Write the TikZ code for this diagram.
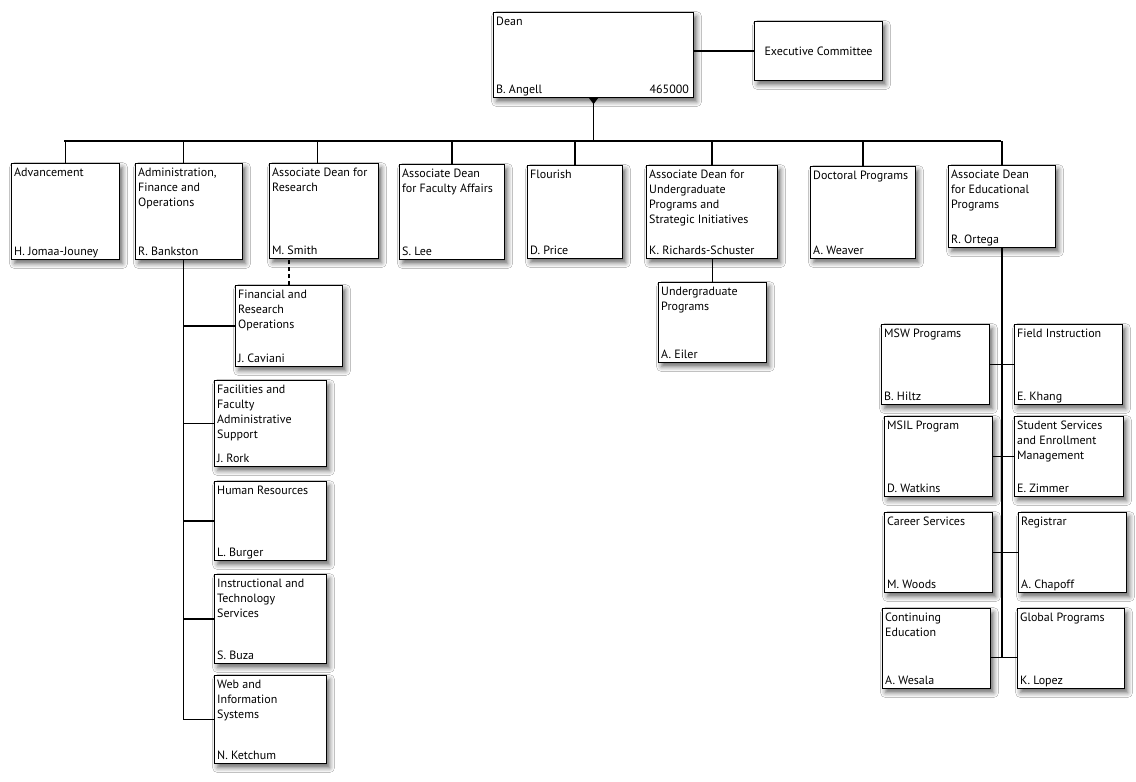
\documentclass[tikz,border=0pt]{standalone}
\usepackage{fontspec}
\setmainfont{PT Sans}
\usetikzlibrary{shadows,shadows.blur,calc}
\tikzset{
  obox/.style={draw=black, line width=1.1pt, fill=white, inner sep=0pt,
    blur shadow={shadow xshift=3pt, shadow yshift=-4pt, shadow blur radius=5pt, shadow opacity=60}},
  otitle/.style={anchor=north west, align=left, inner sep=0pt, font=\fontsize{12}{15}\selectfont},
  oname/.style={anchor=base west, inner sep=0pt, font=\fontsize{12}{15}\selectfont},
  conn/.style={draw=black, line width=1.6pt},
}
\newcommand{\obox}[7]{%
  \node[obox, minimum width=#4pt, minimum height=#5pt, anchor=north west] (#1) at (#2,#3) {};
  \node[otitle] (#1-t) at ([shift={(3pt,-5pt)}]#1.north west) {#6};
  \node[oname] (#1-n) at ([shift={(3pt,5pt)}]#1.south west) {#7};
}
\begin{document}
\begin{tikzpicture}[x=1pt, y=-1pt]
\useasboundingbox[fill=white] (0,0) rectangle (1136,782);
\coordinate (busL) at (64,141);
\coordinate (busR) at (1001,141);
% boxes
\obox{dean}{493}{12}{200}{85}{Dean}{B. Angell}
\node[anchor=base east, inner sep=0pt, font=\fontsize{12}{15}\selectfont] (dean-c) at ([shift={(-5pt,5pt)}]dean.south east) {465000};
\node[obox, minimum width=128pt, minimum height=59pt, anchor=north west, font=\fontsize{12}{15}\selectfont] (exec) at (754,21) {Executive Committee};

\obox{adv}{11}{163}{108}{96}{Advancement}{H. Jomaa-Jouney}
\obox{admin}{135}{163}{107}{96}{Administration,\\Finance and\\Operations}{R. Bankston}
\obox{research}{269}{163}{109}{95}{Associate Dean for\\Research}{M. Smith}
\obox{faculty}{399}{164}{105}{95}{Associate Dean\\for Faculty Affairs}{S. Lee}
\obox{flourish}{527}{165}{95}{93}{Flourish}{D. Price}
\obox{adug}{646}{165}{131}{93}{Associate Dean for\\Undergraduate\\Programs and\\Strategic Initiatives}{K. Richards-Schuster}
\obox{doctoral}{810}{166}{105}{92}{Doctoral Programs}{A. Weaver}
\obox{ortega}{948}{165}{107}{82}{Associate Dean\\for Educational\\Programs}{R. Ortega}

\obox{fin}{235}{285}{107}{81}{Financial and\\Research\\Operations}{J. Caviani}
\obox{fac}{214}{380}{112}{86}{Facilities and\\Faculty\\Administrative\\Support}{J. Rork}
\obox{hr}{214}{481}{112}{79}{Human Resources}{L. Burger}
\obox{instr}{214}{574}{112}{89}{Instructional and\\Technology\\Services}{S. Buza}
\obox{web}{214}{675}{112}{88}{Web and\\Information\\Systems}{N. Ketchum}

\obox{ugp}{658}{282}{108}{80}{Undergraduate\\Programs}{A. Eiler}

\obox{msw}{881}{324}{108}{80}{MSW Programs}{B. Hiltz}
\obox{field}{1014}{324}{108}{80}{Field Instruction}{E. Khang}
\obox{msil}{884}{416}{108}{80}{MSIL Program}{D. Watkins}
\obox{ss}{1014}{416}{109}{80}{Student Services\\and Enrollment\\Management}{E. Zimmer}
\obox{career}{884}{512}{108}{80}{Career Services}{M. Woods}
\obox{reg}{1018}{512}{108}{80}{Registrar}{A. Chapoff}
\obox{cont}{882}{608}{108}{80}{Continuing\\Education}{A. Wesala}
\obox{global}{1017}{608}{107}{80}{Global Programs}{K. Lopez}

% top connectors
\draw[conn] (exec.west) -- (exec.west -| dean.east);
\draw[conn] (dean.south) -- (dean.south |- busL);
\fill (dean.south) ++(-4.5pt,0) -- ++(9pt,0) -- ++(-4.5pt,-6pt) -- cycle;
\draw[conn] (busL) -- (busR);
\draw[conn] (adv.north) -- (adv.north |- busL);
\coordinate (admx) at ([xshift=-5.5pt]admin.north);
\draw[conn] (admx) -- (admx |- busL);
\coordinate (resx) at ([xshift=-6.5pt]research.north);
\draw[conn] (resx) -- (resx |- busL);
\draw[conn] (faculty.north) -- (faculty.north |- busL);
\draw[conn] (flourish.north) -- (flourish.north |- busL);
\draw[conn] (adug.north) -- (adug.north |- busL);
\draw[conn] (doctoral.north) -- (doctoral.north |- busL);
\draw[conn] (ortega.north) -- (ortega.north |- busL);

% admin column
\coordinate (atrunk) at ([xshift=-5.5pt]admin.south);
\draw[conn] (atrunk) -- (atrunk |- web.west) -- (web.west);
\draw[conn] (fin.west) -- (fin.west -| atrunk);
\draw[conn] (fac.west) -- (fac.west -| atrunk);
\draw[conn] (hr.west) -- (hr.west -| atrunk);
\draw[conn] (instr.west) -- (instr.west -| atrunk);
\draw[conn, line width=1.2pt, dash pattern=on 4pt off 3pt] (fin.north) -- (fin.north |- research.south);

% undergraduate
\draw[conn] (ugp.north) -- (ugp.north |- adug.south);

% educational column
\coordinate (glink) at ([yshift=-9pt]global.west);
\draw[conn] (ortega.south) -- (ortega.south |- glink);
\draw[conn] (msw.east) -- (msw.east -| field.west);
\draw[conn] (msil.east) -- (msil.east -| ss.west);
\draw[conn] (career.east) -- (career.east -| reg.west);
\draw[conn] (glink) -- (glink -| cont.east);
\end{tikzpicture}
\end{document}
